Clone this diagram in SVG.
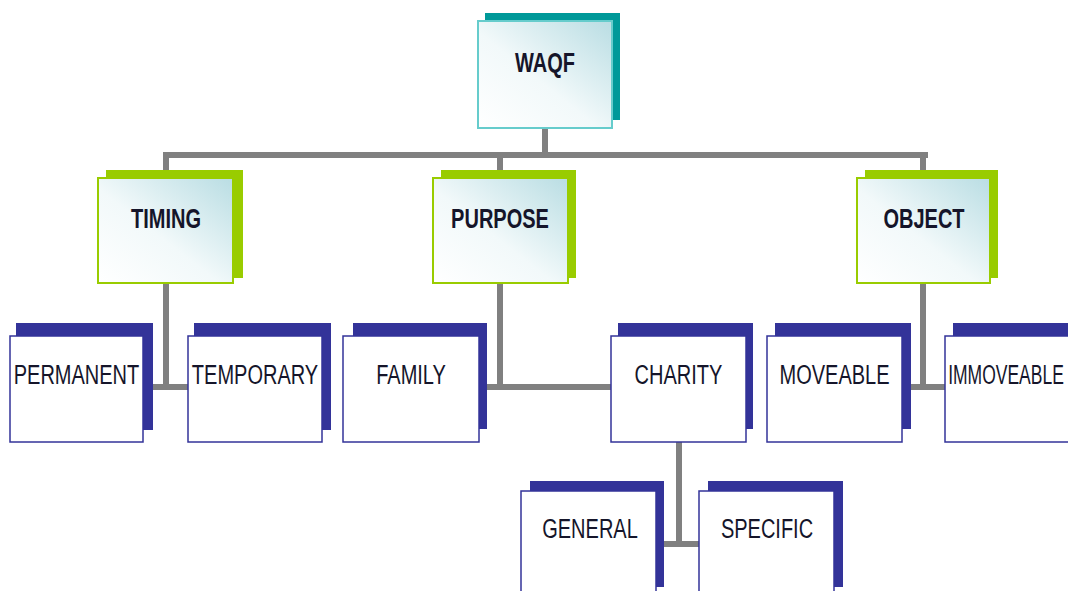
<svg xmlns="http://www.w3.org/2000/svg" width="1068" height="591" viewBox="0 0 1068 591">
<defs>
<linearGradient id="g" x1="0" y1="1" x2="1" y2="0">
<stop offset="0" stop-color="#ffffff"/>
<stop offset="0.45" stop-color="#f2f9fa"/>
<stop offset="1" stop-color="#b9dde3"/>
</linearGradient>
</defs>
<style>
.conn{stroke:#808080;stroke-width:6;fill:none}
.sh1{fill:#009999}
.fr1{fill:url(#g);stroke:#66cccc;stroke-width:2}
.sh2{fill:#99cc00}
.fr2{fill:url(#g);stroke:#99cc00;stroke-width:2}
.sh3{fill:#333399}
.fr3{fill:#ffffff;stroke:#333399;stroke-width:1.5}
.t{font-family:"Liberation Sans",Arial,sans-serif;font-size:20px;fill:#15152a;text-anchor:middle}
.b{font-weight:bold}
</style>
<rect width="1068" height="591" fill="#ffffff"/>
<g id="connectors">
<path class="conn" d="M545 128V155M163 155H928M166 155V178M500 155V178M923 155V178"/>
<path class="conn" d="M166 283V387M143 387H188"/>
<path class="conn" d="M500 283V387M479 387H611"/>
<path class="conn" d="M923 283V387M902 387H945"/>
<path class="conn" d="M679 442V544M656 544H699"/>
</g>
<g id="waqf">
<rect class="sh1" x="485" y="13" width="135" height="107"/>
<rect class="fr1" x="478" y="21" width="134" height="107"/>
<text class="t b" transform="translate(545 72) scale(1 1.4)">WAQF</text>
</g>
<g id="timing">
<rect class="sh2" x="106" y="170" width="137" height="108"/>
<rect class="fr2" x="98" y="178" width="135" height="105"/>
<text class="t b" transform="translate(166 228) scale(1 1.4)">TIMING</text>
</g>
<g id="purpose">
<rect class="sh2" x="441" y="170" width="135" height="108"/>
<rect class="fr2" x="433" y="178" width="135" height="105"/>
<text class="t b" transform="translate(500 228) scale(1 1.4)">PURPOSE</text>
</g>
<g id="object">
<rect class="sh2" x="865" y="170" width="133" height="108"/>
<rect class="fr2" x="857" y="178" width="133" height="105"/>
<text class="t b" transform="translate(924 228) scale(1 1.4)">OBJECT</text>
</g>
<g id="permanent">
<rect class="sh3" x="16" y="323" width="137" height="107"/>
<rect class="fr3" x="10" y="336" width="133" height="106"/>
<text class="t" transform="translate(76.5 384) scale(1 1.4)">PERMANENT</text>
</g>
<g id="temporary">
<rect class="sh3" x="194" y="323" width="137" height="107"/>
<rect class="fr3" x="188" y="336" width="134" height="106"/>
<text class="t" transform="translate(255 384) scale(1 1.4)">TEMPORARY</text>
</g>
<g id="family">
<rect class="sh3" x="353" y="323" width="134" height="106"/>
<rect class="fr3" x="343" y="336" width="136" height="106"/>
<text class="t" transform="translate(411 384) scale(1 1.4)">FAMILY</text>
</g>
<g id="charity">
<rect class="sh3" x="618" y="323" width="135" height="106"/>
<rect class="fr3" x="611" y="336" width="135" height="106"/>
<text class="t" transform="translate(678.5 384) scale(1 1.4)">CHARITY</text>
</g>
<g id="moveable">
<rect class="sh3" x="775" y="323" width="136" height="106"/>
<rect class="fr3" x="767" y="336" width="135" height="106"/>
<text class="t" transform="translate(834.5 384) scale(1 1.4)">MOVEABLE</text>
</g>
<g id="immoveable">
<rect class="sh3" x="953" y="323" width="136" height="106"/>
<rect class="fr3" x="945" y="336" width="135" height="106"/>
<text class="t" style="font-size:17.5px" transform="translate(1006 384) scale(1 1.6)">IMMOVEABLE</text>
</g>
<g id="general">
<rect class="sh3" x="530" y="481" width="134" height="106"/>
<rect class="fr3" x="521" y="491" width="135" height="106"/>
<text class="t" transform="translate(590 538) scale(1 1.4)">GENERAL</text>
</g>
<g id="specific">
<rect class="sh3" x="708" y="481" width="135" height="106"/>
<rect class="fr3" x="699" y="491" width="135" height="106"/>
<text class="t" transform="translate(767 538) scale(1 1.4)">SPECIFIC</text>
</g>
</svg>
